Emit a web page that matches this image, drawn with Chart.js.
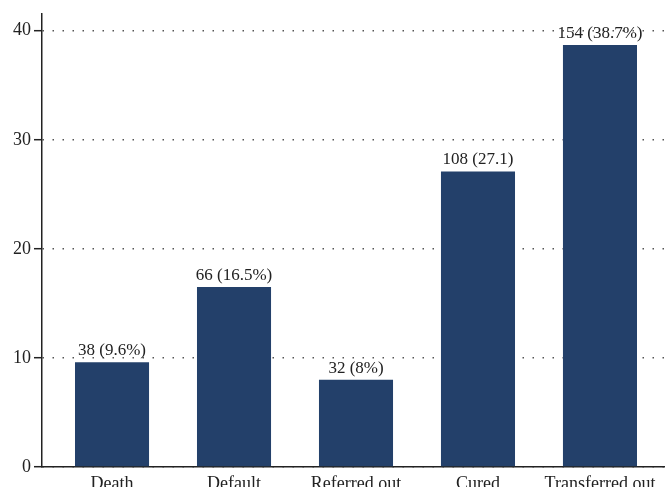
<!DOCTYPE html>
<html>
<head>
<meta charset="utf-8">
<script src="https://cdn.jsdelivr.net/npm/chart.js@4/dist/chart.umd.min.js"></script>
<style>
  html, body { margin: 0; padding: 0; background: #fff; }
  #wrap { width: 665px; height: 487px; }
</style>
</head>
<body>
<div id="wrap"><canvas id="outcomeChart"></canvas></div>
<script>
const categorias = ['Death', 'Default', 'Referred out', 'Cured', 'Transferred out'];
const percentuais = [9.6, 16.5, 8, 27.1, 38.7];
const rotulosBarras = ['38 (9.6%)', '66 (16.5%)', '32 (8%)', '108 (27.1)', '154 (38.7%)'];
const ticksY = [0, 10, 20, 30, 40];

const fonte = '"Liberation Serif", "DejaVu Serif", serif';

// escreve o rótulo em cima de cada barra
const rotulosPlugin = {
  id: 'rotulos',
  afterDatasetsDraw(chart) {
    const ctx = chart.ctx;
    const meta = chart.getDatasetMeta(0);
    ctx.save();
    ctx.font = '17px ' + fonte;
    ctx.fillStyle = '#222';
    ctx.textAlign = 'center';
    ctx.textBaseline = 'bottom';
    meta.data.forEach((bar, i) => {
      ctx.fillText(rotulosBarras[i], bar.x, bar.y - 3);
    });
    ctx.restore();
  }
};

function initOutcomeChart() {
  const ctx = document.getElementById('outcomeChart').getContext('2d');
  new Chart(ctx, {
    type: 'bar',
    data: {
      datasets: [{
        data: percentuais.map((v, i) => ({ x: i, y: v })),
        backgroundColor: '#23406a',
        borderWidth: 0,
        barPercentage: 0.607,
        categoryPercentage: 1
      }]
    },
    options: {
      responsive: true,
      maintainAspectRatio: false,
      animation: false,
      layout: { padding: { top: 12, right: 0, left: 0, bottom: 0 } },
      plugins: {
        legend: { display: false },
        tooltip: { enabled: false }
      },
      scales: {
        x: {
          type: 'linear',
          offset: false,
          min: -0.574,
          max: 4.533,
          afterBuildTicks: (axis) => {
            axis.ticks = categorias.map((c, i) => ({ value: i }));
          },
          afterFit: (axis) => { axis.height = 20; },
          grid: { display: false, drawTicks: false, offset: false },
          border: { display: true, color: '#222', width: 1.5 },
          ticks: {
            autoSkip: false,
            maxRotation: 0,
            padding: 6,
            color: '#222',
            font: { family: fonte, size: 18 },
            callback: (v) => categorias[v]
          }
        },
        y: {
          min: 0,
          max: 41.55,
          afterBuildTicks: (axis) => {
            axis.ticks = ticksY.map(v => ({ value: v }));
          },
          afterFit: (axis) => { axis.width = 42; },
          grid: {
            color: '#555',
            lineWidth: 1.4,
            tickLength: 8,
            tickColor: '#222',
            tickWidth: 1.5,
            tickBorderDash: []
          },
          border: { display: true, color: '#222', width: 1.5, dash: [1.5, 8.5] },
          ticks: {
            padding: 3,
            color: '#222',
            font: { family: fonte, size: 18 }
          }
        }
      }
    },
    plugins: [rotulosPlugin]
  });
}

initOutcomeChart();
</script>
</body>
</html>
